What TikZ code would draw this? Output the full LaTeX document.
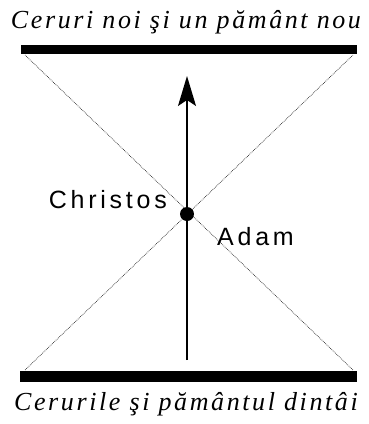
\documentclass[tikz,border=0pt]{standalone}
\usepackage{fontspec}
\setmainfont{Liberation Serif}
\newfontfamily\labfont[LetterSpace=15]{Liberation Sans}
\newfontfamily\capfont[LetterSpace=10]{Liberation Serif}
\usetikzlibrary{arrows.meta}
\begin{document}
\begin{tikzpicture}[x=1pt,y=-1pt,
  bar/.style={fill=black},
  diag/.style={densely dotted, line width=0.7pt, black!85},
  caption/.style={font=\capfont\itshape\fontsize{26}{26}\selectfont, inner sep=0pt},
  lab/.style={font=\labfont\fontsize{25}{25}\selectfont, inner sep=0pt}]
\useasboundingbox (0,0) rectangle (368,424);
\node[caption] (top) at (186,22) {Ceruri noi şi un pământ nou};
\node[caption] (bot) at (186,404) {Cerurile şi pământul dintâi};
\fill[bar] (21,45) rectangle (357,54);
\fill[bar] (20,371) rectangle (357,382);
\coordinate (tl) at (25,55);
\coordinate (tr) at (353,55);
\coordinate (bl) at (25,370);
\coordinate (br) at (353,370);
\draw[diag] (tl) -- (br);
\draw[diag] (tr) -- (bl);
\coordinate (start) at (187,360);
\coordinate (tip) at (187,76);
\draw[line width=1.3pt, -{Stealth[length=30pt,width=18pt,inset=6pt]}] (start) -- (tip);
\node[circle, fill=black, minimum size=14pt, inner sep=0pt] (cross) at (187,214) {};
\node[lab, anchor=east] (christos) at (167,200) {Christos};
\node[lab, anchor=west] (adam) at (217,237) {Adam};
\end{tikzpicture}
\end{document}
